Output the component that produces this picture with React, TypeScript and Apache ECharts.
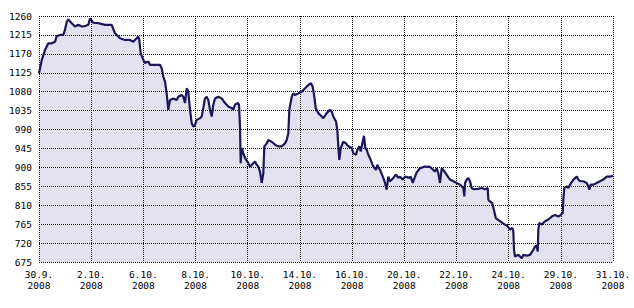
import React, { useEffect, useRef } from "react";
import * as echarts from "echarts";

// x-axis tick labels (one per trading-session boundary)
const dateLabels = ["30.9.", "2.10.", "6.10.", "8.10.", "10.10.", "14.10.", "16.10.", "20.10.", "22.10.", "24.10.", "29.10.", "31.10."];
const yearLabel = "2008";

// y-axis ticks
const yMin = 675;
const yMax = 1260;
const yStep = 45;

// position along the time axis (in label intervals) and index value
const timePos = [
  0, 0.052, 0.115, 0.178, 0.243, 0.307, 0.339, 0.402, 0.466, 0.498, 0.531, 0.562, 0.627, 0.69, 0.753, 0.818, 0.882, 0.945, 0.977, 1.041,
  1.136, 1.265, 1.393, 1.456, 1.552, 1.648, 1.744, 1.807, 1.872, 1.903, 1.922, 1.949, 1.999, 2.031, 2.095, 2.127, 2.256, 2.319, 2.351, 2.382,
  2.415, 2.447, 2.478, 2.511, 2.574, 2.639, 2.67, 2.735, 2.765, 2.798, 2.831, 2.861, 2.894, 2.926, 2.957, 2.99, 3.022, 3.085, 3.118, 3.149,
  3.181, 3.214, 3.245, 3.277, 3.31, 3.34, 3.373, 3.436, 3.501, 3.565, 3.628, 3.693, 3.724, 3.756, 3.808, 3.833, 3.852, 3.865, 3.885, 3.915,
  3.948, 4.011, 4.044, 4.076, 4.107, 4.139, 4.172, 4.203, 4.235, 4.268, 4.299, 4.318, 4.364, 4.394, 4.46, 4.523, 4.586, 4.651, 4.714, 4.747,
  4.778, 4.797, 4.843, 4.874, 4.906, 4.969, 5.034, 5.098, 5.161, 5.213, 5.245, 5.276, 5.303, 5.353, 5.418, 5.449, 5.514, 5.577, 5.609, 5.64,
  5.692, 5.717, 5.736, 5.755, 5.782, 5.832, 5.883, 5.928, 5.993, 6.023, 6.075, 6.1, 6.138, 6.165, 6.203, 6.228, 6.253, 6.28, 6.311, 6.343,
  6.407, 6.458, 6.483, 6.535, 6.598, 6.631, 6.663, 6.694, 6.727, 6.79, 6.842, 6.886, 6.918, 6.97, 7.014, 7.097, 7.123, 7.162, 7.206, 7.238,
  7.302, 7.397, 7.493, 7.556, 7.589, 7.622, 7.652, 7.685, 7.718, 7.748, 7.813, 7.877, 7.94, 8.005, 8.068, 8.101, 8.131, 8.151, 8.164, 8.197,
  8.227, 8.26, 8.292, 8.323, 8.419, 8.484, 8.547, 8.599, 8.611, 8.643, 8.687, 8.725, 8.752, 8.791, 8.835, 8.879, 8.931, 8.982, 9.026, 9.071,
  9.09, 9.103, 9.122, 9.185, 9.218, 9.251, 9.281, 9.346, 9.41, 9.473, 9.506, 9.538, 9.557, 9.569, 9.588, 9.634, 9.697, 9.76, 9.826, 9.889,
  9.952, 9.998, 10.036, 10.048, 10.067, 10.113, 10.144, 10.177, 10.24, 10.305, 10.336, 10.368, 10.431, 10.496, 10.527, 10.546, 10.573, 10.623, 10.688, 10.751,
  10.814, 10.88, 10.943, 11,
];

const indexValues = [
  1124, 1155, 1179, 1195, 1195, 1199, 1212, 1215, 1215, 1227, 1246, 1252, 1243, 1235, 1239, 1235, 1236, 1239, 1254, 1244,
  1243, 1239, 1239, 1219, 1207, 1203, 1203, 1199, 1207, 1211, 1203, 1171, 1156, 1148, 1152, 1144, 1144, 1144, 1136, 1116,
  1104, 1076, 1037, 1060, 1064, 1060, 1068, 1072, 1068, 1053, 1088, 1080, 1037, 1005, 997, 1001, 1013, 1017, 1021, 1041,
  1064, 1068, 1060, 1037, 1021, 1049, 1064, 1068, 1064, 1053, 1045, 1041, 1037, 1049, 1053, 1049, 997, 910, 946, 934,
  922, 910, 902, 906, 910, 914, 906, 902, 890, 863, 886, 950, 957, 965, 961, 954, 950, 950, 957, 965,
  981, 1037, 1068, 1076, 1072, 1076, 1080, 1088, 1096, 1100, 1092, 1068, 1041, 1029, 1021, 1017, 1029, 1037, 1033, 1021,
  1009, 989, 950, 918, 946, 961, 957, 950, 946, 934, 930, 942, 950, 938, 961, 975, 946, 942, 930, 922,
  902, 894, 906, 894, 875, 863, 847, 878, 867, 875, 883, 875, 878, 871, 878, 875, 878, 863, 878, 888,
  898, 902, 901, 894, 890, 898, 886, 863, 898, 894, 882, 871, 867, 863, 859, 855, 851, 831, 863, 871,
  875, 867, 851, 848, 849, 851, 848, 851, 823, 819, 815, 795, 780, 776, 772, 768, 764, 760, 752, 756,
  748, 704, 688, 692, 688, 684, 692, 690, 692, 704, 712, 714, 700, 752, 768, 764, 772, 776, 783, 787,
  783, 787, 791, 823, 851, 855, 851, 859, 871, 878, 871, 867, 867, 863, 855, 847, 859, 859, 863, 867,
  871, 878, 878, 880,
];

const FONT = "'DejaVu Sans Mono', monospace";

export default function App() {
  const ref = useRef<HTMLDivElement>(null);

  useEffect(() => {
    if (!ref.current) return;
    const chart = echarts.init(ref.current, undefined, { renderer: "svg" });
    const data = timePos.map((t, i) => [t, indexValues[i]]);
    const gridBox = { left: 39, top: 16, width: 574, height: 246 };
    const xMax = dateLabels.length - 1;

    chart.setOption({
      animation: false,
      backgroundColor: "#ffffff",
      grid: [gridBox, gridBox],
      xAxis: [
        {
          type: "value",
          gridIndex: 0,
          min: 0,
          max: xMax,
          interval: 1,
          z: 3,
          axisLine: { show: false },
          axisTick: { show: false },
          axisLabel: {
            margin: 7,
            fontFamily: FONT,
            fontSize: 9.5,
            lineHeight: 11,
            color: "#000",
            showMinLabel: true,
            showMaxLabel: true,
            formatter: (v: number) => `${dateLabels[Math.round(v)]}\n${yearLabel}`,
          },
          splitLine: { show: true, lineStyle: { color: "#ffffff", width: 1, type: "solid" } },
        },
        {
          type: "value",
          gridIndex: 1,
          min: 0,
          max: xMax,
          interval: 1,
          z: 4,
          axisLine: { show: false },
          axisTick: { show: false },
          axisLabel: { show: false },
          splitLine: { show: true, lineStyle: { color: "#000000", width: 1, type: [1, 1] } },
        },
      ],
      yAxis: [
        {
          type: "value",
          gridIndex: 0,
          min: yMin,
          max: yMax,
          interval: yStep,
          z: 3,
          axisLine: { show: false },
          axisTick: { show: false },
          axisLabel: {
            margin: 7,
            fontFamily: FONT,
            fontSize: 9.5,
            color: "#000",
            formatter: (v: number) => String(v),
          },
          splitLine: { show: true, lineStyle: { color: "#ffffff", width: 1, type: "solid" } },
        },
        {
          type: "value",
          gridIndex: 1,
          min: yMin,
          max: yMax,
          interval: yStep,
          z: 4,
          axisLine: { show: false },
          axisTick: { show: false },
          axisLabel: { show: false },
          splitLine: { show: true, lineStyle: { color: "#000000", width: 1, type: [1, 1] } },
        },
      ],
      series: [
        {
          type: "line",
          xAxisIndex: 0,
          yAxisIndex: 0,
          data,
          z: 1,
          symbol: "none",
          lineStyle: { width: 0, opacity: 0 },
          areaStyle: { color: "#e3e1ef", opacity: 1, origin: "start" },
        },
        {
          type: "line",
          xAxisIndex: 0,
          yAxisIndex: 0,
          data,
          z: 6,
          symbol: "none",
          lineStyle: { width: 2.2, color: "#1a1858" },
        },
      ],
    });

    return () => chart.dispose();
  }, []);

  return (
    <div
      ref={ref}
      style={{ position: "fixed", left: 0, top: 0, width: 634, height: 308 }}
    />
  );
}
